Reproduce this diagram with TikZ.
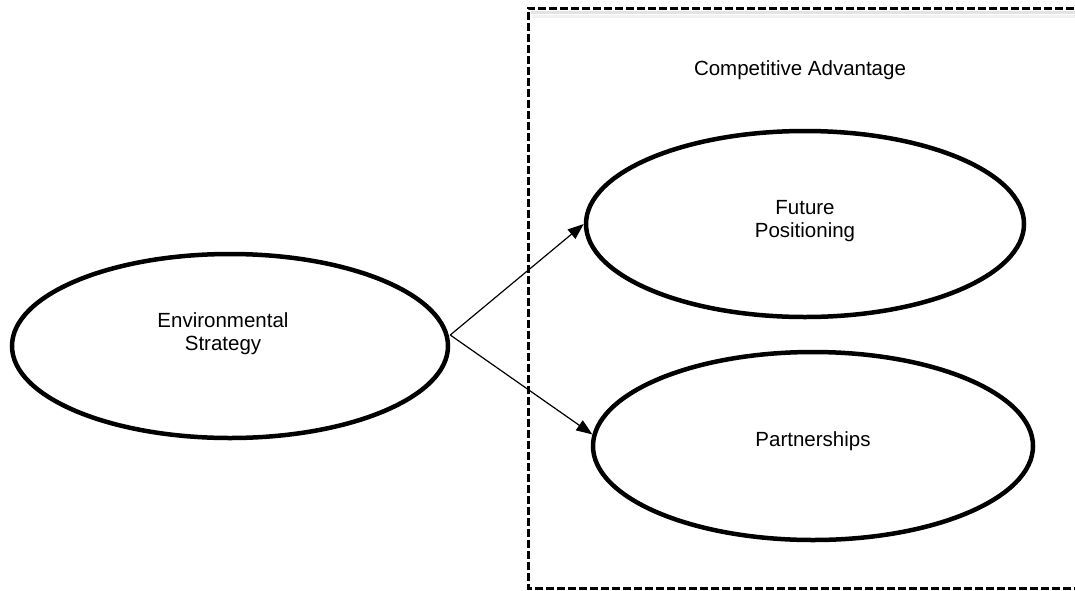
\documentclass[tikz,border=0pt]{standalone}
\usepackage{fontspec}
\setmainfont{Liberation Sans}
\usetikzlibrary{shapes.geometric,arrows.meta}
\begin{document}
\begin{tikzpicture}[x=1pt,y=-1pt,
  oval/.style={ellipse,draw,line width=4.5pt,inner sep=0pt},
  lbl/.style={align=center,inner sep=0pt,font=\fontsize{20.5}{23}\selectfont},
  conn/.style={line width=1.2pt,-{Triangle[length=16pt,width=12pt]}},
  frame/.style={draw,line width=3pt,dash pattern=on 8pt off 3pt},
  shadeA/.style={draw=black!11,line width=3pt},
  shadeB/.style={draw=black!5,line width=3pt}]
\useasboundingbox (0,0) rectangle (1075,590);
\fill[white] (0,0) rectangle (1075,590);
% dashed frame with faint shadow
\draw[shadeB] (532,16) -- (1075,16);
\draw[shadeA] (531,12.5) -- (1075,12.5);
\draw[frame] (1085,8) -- (528,8) -- (528,588) -- (1085,588);
\node[lbl] (title) at (800,70) {Competitive Advantage};
% ellipses
\node[oval,minimum width=436pt,minimum height=184pt] (env) at (230,346) {};
\node[oval,minimum width=438pt,minimum height=186pt] (fut) at (805,224) {};
\node[oval,minimum width=440pt,minimum height=188pt] (part) at (813,446) {};
% texts
\node[lbl] (envt) at (223,334) {Environmental\\Strategy};
\node[lbl] (futt) at (805,221) {Future\\Positioning};
\node[lbl] (partt) at (813,441) {Partnerships};
% connectors
\coordinate (s) at ([yshift=11pt]env.east);
\draw[conn] (s) -- (fut.west);
\draw[conn] (s) -- (part.177);
\end{tikzpicture}
\end{document}
